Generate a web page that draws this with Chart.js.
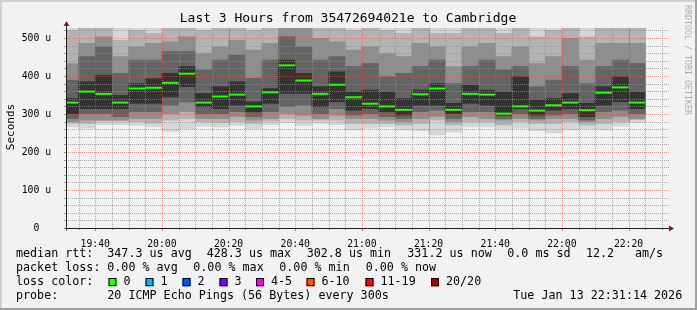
<!DOCTYPE html>
<html>
<head>
<meta charset="utf-8">
<script src="https://cdn.jsdelivr.net/npm/chart.js@4.4.1/dist/chart.umd.min.js"></script>
<style>
  html, body { margin: 0; padding: 0; background: #f2f2f2; }
</style>
</head>
<body>
<canvas id="myChart" width="697" height="310"></canvas>
<script>
// 5 minute slots (start time of each step)
const slots = ['19:30','19:35','19:40','19:45','19:50','19:55','20:00','20:05','20:10','20:15','20:20','20:25',
  '20:30','20:35','20:40','20:45','20:50','20:55','21:00','21:05','21:10','21:15','21:20','21:25',
  '21:30','21:35','21:40','21:45','21:50','21:55','22:00','22:05','22:10','22:15','22:20'];

// median rtt in microseconds
const median = [330,359,353,330,367,369,382,406,330,346,351,320,357,428,388,353,377,344,327,320,311,352,367,311,
  353,351,301,320,309,323,330,310,356,370,330];

// smoke bands, outer (light) to inner (dark), low and high edge in us
const l1Lo = [266,263,272,272,270,266,254,261,268,266,270,261,272,278,270,275,272,258,263,266,258,256,245,252,
  266,266,261,263,256,250,258,261,258,268,277];
const l1Hi = [600,600,600,600,600,600,600,600,600,600,600,600,600,600,600,600,600,600,600,600,600,600,600,600,
  600,600,600,600,600,600,600,600,600,600,600];
const l2Lo = [276,275,282,282,280,276,284,288,280,277,280,275,282,288,284,284,284,275,275,275,271,275,284,271,
  280,280,271,280,275,275,280,271,275,280,285];
const l2Hi = [520,529,560,494,520,512,560,560,520,529,529,520,529,600,600,560,529,520,529,520,512,529,512,512,
  529,529,512,529,503,520,560,503,529,529,560];
const l3Lo = [280,284,284,284,288,288,301,306,288,288,293,284,288,301,297,288,297,288,288,284,280,288,293,280,
  293,288,284,288,284,288,288,280,288,293,288];
const l3Hi = [433,486,503,451,477,486,490,503,459,477,494,468,486,560,560,499,490,468,477,459,451,486,477,425,
  477,486,451,477,433,451,499,442,486,486,486];
const l4Lo = [288,301,301,293,306,306,323,332,301,301,306,293,306,319,323,301,314,297,301,293,288,306,310,288,
  306,306,288,301,288,297,301,284,306,310,301];
const l4Hi = [389,451,477,407,442,442,464,464,416,442,455,394,442,503,477,442,451,425,433,398,407,425,442,380,
  425,442,416,425,372,389,425,380,425,442,433];
const l5Lo = [301,314,314,314,328,328,345,372,319,314,323,306,328,354,354,319,332,310,314,306,297,323,323,301,
  328,323,297,314,297,310,314,293,323,332,314];
const l5Hi = [341,385,402,349,380,393,407,425,354,372,385,332,367,442,407,372,411,358,363,358,341,363,380,328,
  376,363,358,398,337,341,354,328,372,398,358];

const xTickLabels = ['19:40','20:00','20:20','20:40','21:00','21:20','21:40','22:00','22:20'];
const yTickLabels = ['0','100 u','200 u','300 u','400 u','500 u'];
const hourRules = ['20:20','21:20','22:20'];

const lossColors = ['#26ff00','#00b8ff','#0059ff','#7e00ff','#ee00ff','#ff5500','#ff0000','#a10000'];
const lossLabels = ['0','1','2','3','4-5','6-10','11-19','20/20'];

const shades = ['#d6d6d6','#b3b3b3','#8e8e8e','#646464','#333333'];
const MONO = 'DejaVu Sans Mono';

function toMin(s) {
  const p = s.split(':');
  return Number(p[0]) * 60 + Number(p[1]);
}
const centers = slots.map(s => toMin(s) + 2.5);
const tStart = 19 * 60 + 31 + 14 / 60;   // 19:31:14
const tEnd = tStart + 180;

function band(lo, hi) {
  return centers.map((x, i) => ({x: x, y: [lo[i], hi[i]]}));
}
function bandSet(name, lo, hi, k) {
  return {
    label: name, data: band(lo, hi), backgroundColor: shades[k], borderWidth: 0,
    grouped: false, barPercentage: 1, categoryPercentage: 1, order: 10 - k
  };
}

// rrdtool style grid, drawn over the smoke but below the median line
const gridPlugin = {
  id: 'rrdgrid',
  beforeDatasetDraw(chart, args) {
    if (chart.data.datasets[args.index].label !== 'step') return;
    const ctx = chart.ctx, a = chart.chartArea, x = chart.scales.x, y = chart.scales.y;
    ctx.save();
    ctx.lineWidth = 1;
    ctx.setLineDash([1, 1]);
    const vline = (m) => {
      const px = Math.round(x.getPixelForValue(m)) + 0.5;
      ctx.beginPath(); ctx.moveTo(px, a.top); ctx.lineTo(px, a.bottom); ctx.stroke();
    };
    const hline = (v) => {
      const py = Math.round(y.getPixelForValue(v)) + 0.5;
      ctx.beginPath(); ctx.moveTo(a.left, py); ctx.lineTo(a.right + 3, py); ctx.stroke();
    };
    ctx.strokeStyle = 'rgba(143,143,143,0.75)';
    for (let m = 1175; m < tEnd; m += 5) if (m % 20 !== 0) vline(m);
    for (let v = 20; v < 526; v += 20) if (v % 100 !== 0) hline(v);
    ctx.strokeStyle = 'rgba(222,79,79,0.6)';
    for (let m = 1180; m < tEnd; m += 20) vline(m);
    for (let v = 100; v < 526; v += 100) hline(v);

    // hour rules show as solid pink lines through the smoke
    ctx.setLineDash([]);
    ctx.strokeStyle = 'rgba(222,79,79,0.45)';
    hourRules.forEach(h => {
      const m = toMin(h);
      const i = centers.findIndex(c => c > m);
      const lo = Math.max(l1Lo[i], l1Lo[i - 1]);
      const px = Math.round(x.getPixelForValue(m)) + 0.5;
      ctx.beginPath(); ctx.moveTo(px, a.top); ctx.lineTo(px, y.getPixelForValue(lo)); ctx.stroke();
    });
    ctx.restore();
  },
  afterDraw(chart) {
    const ctx = chart.ctx, a = chart.chartArea, x = chart.scales.x, y = chart.scales.y;
    const W = chart.width, H = chart.height;
    ctx.save();
    // frame
    ctx.fillStyle = '#cfcfcf';
    ctx.fillRect(0, 0, W, 2); ctx.fillRect(0, 0, 2, H);
    ctx.fillStyle = '#9e9e9e';
    ctx.fillRect(0, H - 2, W, 2); ctx.fillRect(W - 2, 0, 2, H);

    // small ticks on the axes
    ctx.lineWidth = 1;
    ctx.strokeStyle = 'rgba(143,143,143,0.9)';
    for (let v = 20; v < 526; v += 20) {
      const py = Math.round(y.getPixelForValue(v)) + 0.5;
      ctx.beginPath(); ctx.moveTo(a.left - 2, py); ctx.lineTo(a.left, py); ctx.stroke();
    }
    for (let m = 1175; m < tEnd; m += 5) {
      const px = Math.round(x.getPixelForValue(m)) + 0.5;
      ctx.beginPath(); ctx.moveTo(px, a.bottom); ctx.lineTo(px, a.bottom + 2); ctx.stroke();
    }
    ctx.strokeStyle = 'rgba(222,79,79,0.9)';
    for (let m = 1180; m < tEnd; m += 20) {
      const px = Math.round(x.getPixelForValue(m)) + 0.5;
      ctx.beginPath(); ctx.moveTo(px, a.bottom); ctx.lineTo(px, a.bottom + 3); ctx.stroke();
    }

    // axes and arrows
    ctx.strokeStyle = '#1f1f1f';
    const ax = Math.round(a.left) + 0.5, ay = Math.round(a.bottom) + 0.5;
    ctx.beginPath(); ctx.moveTo(ax, ay + 2); ctx.lineTo(ax, a.top - 5); ctx.stroke();
    ctx.beginPath(); ctx.moveTo(ax - 2, ay); ctx.lineTo(a.right + 4, ay); ctx.stroke();
    ctx.fillStyle = '#801f1f';
    ctx.beginPath(); ctx.moveTo(ax, a.top - 7); ctx.lineTo(ax - 3, a.top - 2); ctx.lineTo(ax + 3, a.top - 2); ctx.closePath(); ctx.fill();
    ctx.beginPath(); ctx.moveTo(a.right + 8, ay); ctx.lineTo(a.right + 3, ay - 3); ctx.lineTo(a.right + 3, ay + 3); ctx.closePath(); ctx.fill();

    // title
    ctx.fillStyle = '#000';
    ctx.textBaseline = 'middle';
    ctx.textAlign = 'center';
    ctx.font = '13px "' + MONO + '"';
    ctx.fillText('Last 3 Hours from 35472694021e to Cambridge', 348, 19);

    // vertical label
    ctx.save();
    ctx.translate(11, 127);
    ctx.rotate(-Math.PI / 2);
    ctx.font = '11px "' + MONO + '"';
    ctx.fillText('Seconds', 0, 0);
    ctx.restore();

    // watermark
    ctx.save();
    ctx.translate(687.5, 5);
    ctx.rotate(Math.PI / 2);
    ctx.textAlign = 'left';
    ctx.fillStyle = 'rgba(0,0,0,0.3)';
    ctx.font = '8.3px "' + MONO + '"';
    ctx.fillText('RRDTOOL / TOBI OETIKER', 0, 0);
    ctx.restore();

    // legend
    ctx.textAlign = 'left';
    ctx.font = '11.7px "' + MONO + '"';
    const put = (t, px, py) => ctx.fillText(t, px, py);
    put('median rtt:', 16, 254);
    put('347.3 us avg', 107.3, 254);
    put('428.3 us max', 206.7, 254);
    put('302.8 us min', 306.7, 254);
    put('331.2 us now', 407.3, 254);
    put('0.0 ms sd', 507.3, 254);
    put('12.2', 586, 254);
    put('am/s', 635, 254);

    put('packet loss:', 16, 268.3);
    put('0.00 % avg', 107.3, 268.3);
    put('0.00 % max', 193.3, 268.3);
    put('0.00 % min', 279.3, 268.3);
    put('0.00 % now', 365.7, 268.3);

    put('loss color:', 16, 282.3);
    const boxX = [108.5, 145.5, 182.5, 219.5, 256, 306.5, 365.5, 431];
    lossLabels.forEach((lab, i) => {
      ctx.fillStyle = lossColors[i];
      ctx.fillRect(boxX[i], 278.5, 8, 8);
      ctx.strokeStyle = '#000';
      ctx.strokeRect(boxX[i] + 0.5, 278.5, 7, 7);
      ctx.fillStyle = '#000';
      put(lab, boxX[i] + 15, 282.3);
    });

    put('probe:', 16, 296);
    put('20 ICMP Echo Pings (56 Bytes) every 300s', 107.3, 296);
    put('Tue Jan 13 22:31:14 2026', 513.3, 296);
    ctx.restore();
  }
};

const config = {
  type: 'bar',
  data: {
    datasets: [
      bandSet('l1', l1Lo, l1Hi, 0),
      bandSet('l2', l2Lo, l2Hi, 1),
      bandSet('l3', l3Lo, l3Hi, 2),
      bandSet('l4', l4Lo, l4Hi, 3),
      bandSet('l5', l5Lo, l5Hi, 4),
      {
        type: 'line', label: 'step', data: centers.map((x, i) => ({x: x, y: median[i]})),
        stepped: 'middle', borderColor: '#1a1a1a', borderWidth: 1, borderDash: [1, 1],
        pointRadius: 0, order: 2, clip: 0
      },
      {
        type: 'line', label: 'median', data: centers.map((x, i) => ({x: x, y: median[i]})),
        showLine: false, pointStyle: 'line', pointRadius: 8.33, pointBorderWidth: 2,
        pointBorderColor: lossColors[0], pointBackgroundColor: lossColors[0], order: 1, clip: 0
      }
    ]
  },
  options: {
    responsive: false,
    devicePixelRatio: 1,
    animation: false,
    events: [],
    layout: { padding: { left: 0, top: 28, right: 31, bottom: 0 } },
    plugins: { legend: { display: false }, tooltip: { enabled: false } },
    scales: {
      x: {
        type: 'linear', min: tStart, max: tEnd, offset: false,
        grid: { display: false }, border: { display: false },
        afterBuildTicks: s => { s.ticks = xTickLabels.map(t => ({value: toMin(t)})); },
        afterFit: s => { s.height = 82; },
        ticks: {
          autoSkip: false, maxRotation: 0, padding: 3, color: '#000',
          font: { family: MONO, size: 9.75 },
          callback: (v, i) => xTickLabels[i]
        }
      },
      y: {
        min: 0, max: 526.3,
        grid: { display: false }, border: { display: false },
        afterBuildTicks: s => { s.ticks = yTickLabels.map((t, i) => ({value: i * 100})); },
        afterFit: s => { s.width = 66; },
        ticks: {
          padding: 7, crossAlign: 'center', color: '#000',
          font: { family: MONO, size: 9.75 },
          callback: (v, i) => yTickLabels[i]
        }
      }
    }
  },
  plugins: [gridPlugin]
};

const myChart = new Chart(document.getElementById('myChart'), config);
</script>
</body>
</html>
